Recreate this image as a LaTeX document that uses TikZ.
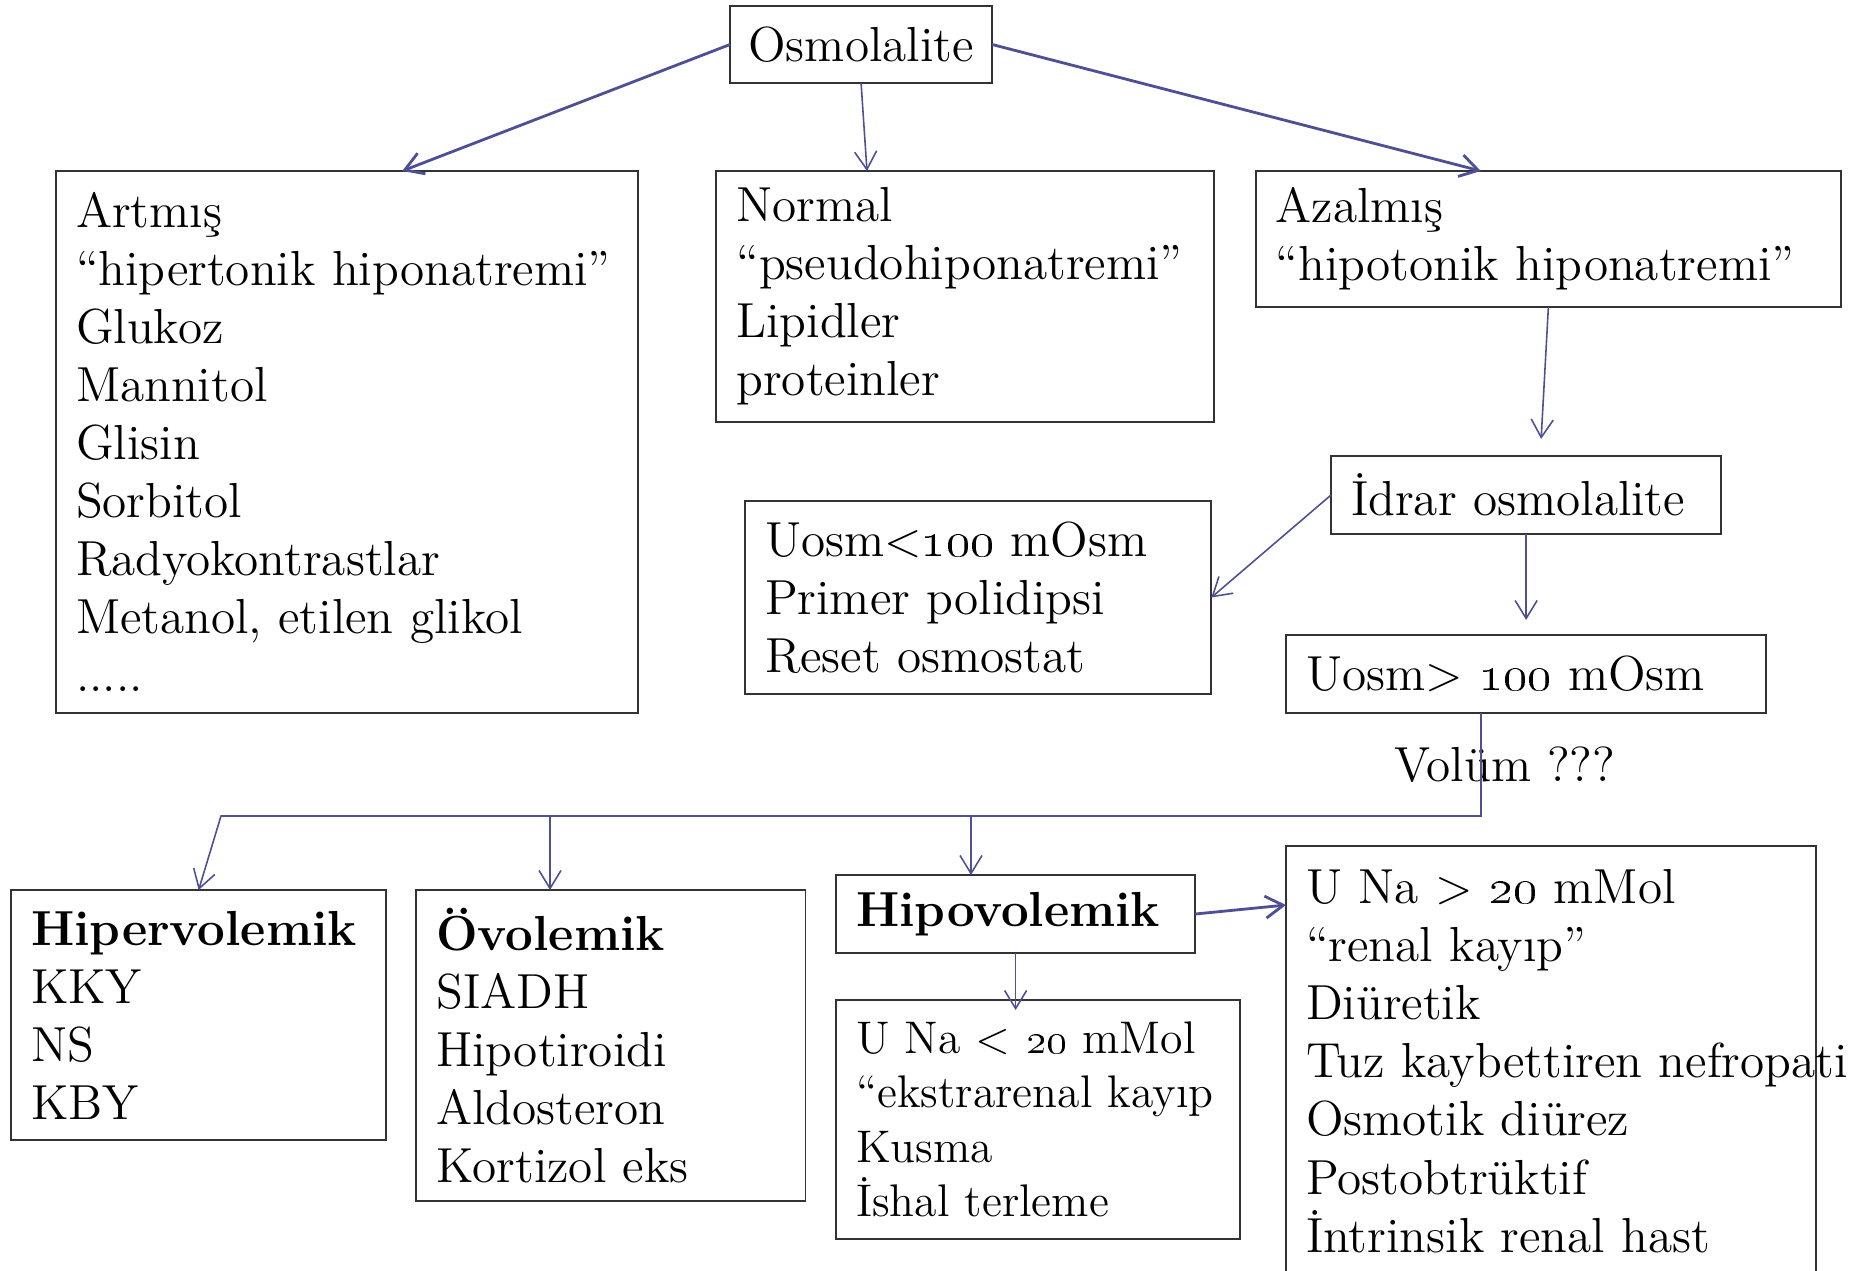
\documentclass[tikz,border=0pt]{standalone}
\usepackage{tikz}
\usetikzlibrary{arrows.meta,positioning}
\definecolor{linkblue}{HTML}{4E5096}
\definecolor{framegray}{HTML}{333333}
\newcommand{\onum}[1]{\oldstylenums{#1}}

\begin{document}
\begin{tikzpicture}[
  x=0.01cm,y=-0.01cm,
  lbl/.style={font=\fontsize{14}{16.5}\selectfont},
  block/.style={lbl,draw=framegray,line width=0.55pt,outer sep=0pt,anchor=north west,inner xsep=0.2cm,inner ysep=0.1cm,align=left},
  small/.style={block,font=\fontsize{13}{15.5}\selectfont},
  arr/.style={-{Straight Barb[length=1.8mm,width=2.2mm]},draw=linkblue,line width=0.45pt},
  arrbold/.style={arr,line width=0.8pt}
]
  \useasboundingbox (0,0) rectangle (1852,1271);

  \node[block,minimum width=2.62cm,minimum height=0.77cm,inner xsep=0.1cm,align=center] (osm) at (730,6) {Osmolalite};

  \node[block,text width=5.42cm,minimum height=5.42cm] (artmis) at (56,171) {Artmış\\“hipertonik hiponatremi”\\Glukoz\\Mannitol\\Glisin\\Sorbitol\\Radyokontrastlar\\Metanol, etilen glikol\\.....};
  \node[block,text width=4.57cm,minimum height=2.51cm,right=0.78cm of artmis.north east,anchor=north west] (normal) {Normal\\“pseudohiponatremi”\\Lipidler\\proteinler};
  \node[block,text width=5.45cm,minimum height=1.36cm,right=0.42cm of normal.north east,anchor=north west] (azalmis) {Azalmış\\“hipotonik hiponatremi”};

  \node[block,text width=3.50cm,minimum height=0.78cm] (idrar) at (1331,456) {İdrar osmolalite};
  \node[block,text width=4.26cm,minimum height=1.93cm] (uosmlow) at (745,501) {Uosm<\onum{100} mOsm\\Primer polidipsi\\Reset osmostat};
  \node[block,text width=4.40cm,minimum height=0.78cm] (uosmhigh) at (1286,635) {Uosm> \onum{100} mOsm};
  \node[lbl] (vol) at (1505,765) {Volüm ???};

  \node[block,text width=3.35cm,minimum height=2.50cm] (hiper) at (11,890) {\textbf{Hipervolemik}\\KKY\\NS\\KBY};
  \node[block,text width=3.49cm,minimum height=3.11cm,right=0.3cm of hiper.north east,anchor=north west] (ovol) {\textbf{Övolemik}\\SIADH\\Hipotiroidi\\Aldosteron\\Kortizol eks};
  \node[block,text width=3.19cm,minimum height=0.78cm] (hipov) at (836,875) {\textbf{Hipovolemik}};
  \node[small,text width=3.64cm,minimum height=2.39cm] (unalow) at (836,1000) {U Na < \onum{20} mMol\\“ekstrarenal kayıp\\Kusma\\İshal terleme};
  \node[block,text width=4.90cm,minimum height=4.30cm] (unahigh) at (1286,846) {U Na > \onum{20} mMol\\“renal kayıp”\\Diüretik\\\leavevmode\rlap{Tuz kaybettiren nefropati}\\Osmotik diürez\\Postobtrüktif\\İntrinsik renal hast};

  \coordinate (split) at (1481,816);
  \coordinate (busend) at (221,816);
  \coordinate (drop2) at (550,816);
  \coordinate (drop3) at (971,816);

  \draw[arrbold] (osm.west) -- ([xshift=0.55cm]artmis.north);
  \draw[arr] (osm.south) -- ([xshift=-0.98cm]normal.north);
  \draw[arrbold] (osm.east) -- ([xshift=-0.675cm]azalmis.north);
  \draw[arr] (azalmis.south) -- ([xshift=0.15cm,yshift=0.17cm]idrar.north);
  \draw[arr] (idrar.west) -- (uosmlow.east);
  \draw[arr,shorten >=0.15cm] (idrar.south) -- (idrar.south |- uosmhigh.north);
  \draw[arr] (uosmhigh.south -| split) -- (split) -- (busend) -- (hiper.north);
  \draw[arr] (drop2) -- (drop2 |- ovol.north);
  \draw[arr] (drop3) -- (drop3 |- hipov.north);
  \draw[arrbold] (hipov.east) -- ([yshift=-0.59cm]unahigh.north west);
  \draw[arr,shorten >=-0.1cm] (hipov.south) -- (hipov.south |- unalow.north);
\end{tikzpicture}
\end{document}
